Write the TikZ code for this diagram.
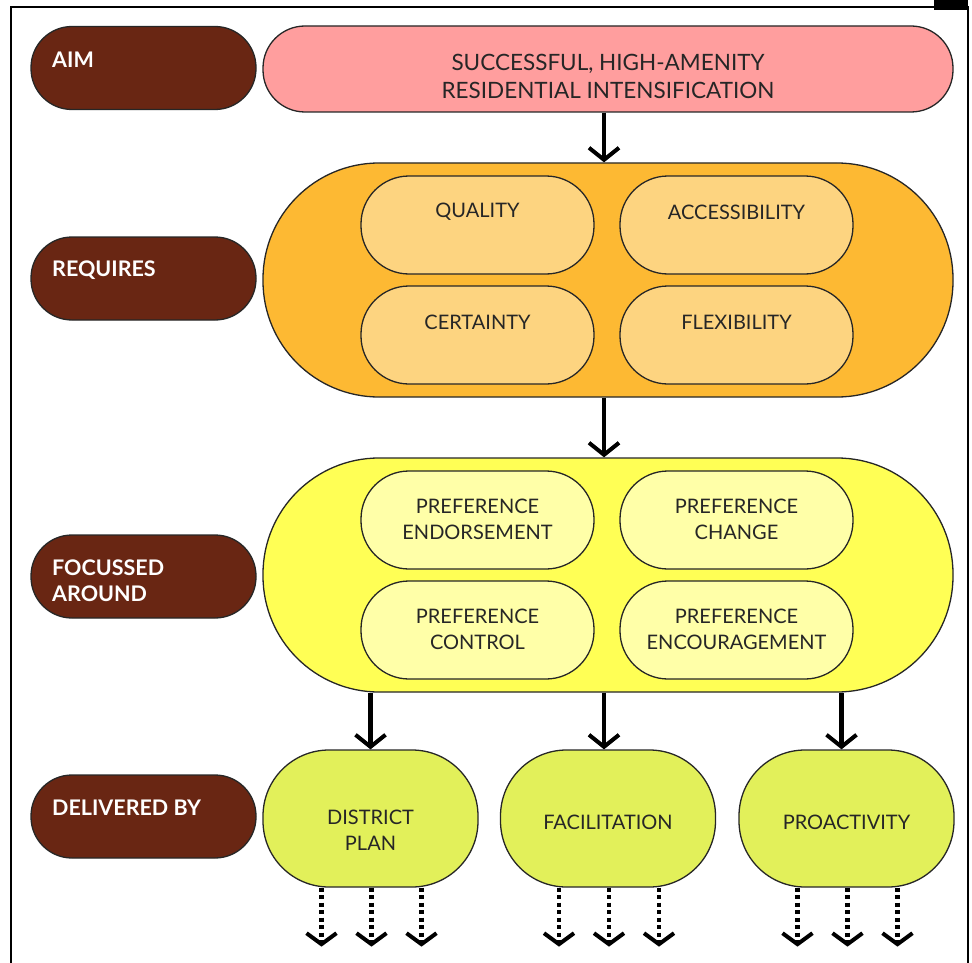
\documentclass[tikz,border=0pt]{standalone}
\usepackage{fontspec}
\setmainfont{Lato}
\usetikzlibrary{arrows.meta}
\definecolor{brownlab}{HTML}{692613}
\definecolor{pinkaim}{HTML}{FF9E9E}
\definecolor{orangereq}{HTML}{FDB933}
\definecolor{orangein}{HTML}{FDD480}
\definecolor{yellowfoc}{HTML}{FFFF55}
\definecolor{yellowin}{HTML}{FFFFA8}
\definecolor{greendel}{HTML}{E2F05A}
\tikzset{
  shapebox/.style={draw=black!85, line width=1.3pt, inner sep=0pt},
  labbox/.style={shapebox, fill=brownlab, minimum width=225pt, minimum height=83pt, rounded corners=41pt},
  labtxt/.style={anchor=west, text=white, font=\fontsize{21.5}{26}\selectfont\bfseries, align=left, inner sep=0pt},
  bigbox/.style={shapebox, minimum width=690pt, minimum height=234pt, rounded corners=116pt},
  innbox/.style={shapebox, minimum width=233pt, minimum height=98pt, rounded corners=48pt},
  delbox/.style={shapebox, fill=greendel, minimum width=215pt, minimum height=137pt, rounded corners=66pt},
  txt/.style={text=black!85, font=\fontsize{20}{26}\selectfont, align=center, inner sep=0pt},
  arr/.style={line width=4.5pt, -{Straight Barb[length=12pt, width=30pt, line width=4pt]}},
  darr/.style={line width=4.5pt, dash pattern=on 4pt off 3.5pt, -{Straight Barb[length=11pt, width=30pt, line width=4pt]}}
}
\begin{document}
\begin{tikzpicture}[x=1pt, y=-1pt]
\useasboundingbox (0,0) rectangle (972,963);
% frame
\draw[line width=1.5pt] (11,963) -- (11,7) -- (968,7) -- (968,963);
\fill[black] (934,0) rectangle (968,10);

% left labels
\node[labbox] (l1) at (143.5,68) {};
\node[labtxt] (t1) at (52,60) {AIM};
\node[labbox] (l2) at (143.5,278.5) {};
\node[labtxt] (t2) at (52,270) {REQUIRES};
\node[labbox] (l3) at (143.5,576.5) {};
\node[labtxt] (t3) at (52,581) {FOCUSSED\\AROUND};
\node[labbox] (l4) at (143.5,816.5) {};
\node[labtxt] (t4) at (52,808) {DELIVERED BY};

% aim
\node[shapebox, fill=pinkaim, minimum width=690pt, minimum height=86pt, rounded corners=42pt] (aim) at (608,69) {};
\node[txt, font=\fontsize{22.5}{28}\selectfont] (aimt) at (608,76) {SUCCESSFUL, HIGH-AMENITY\\RESIDENTIAL INTENSIFICATION};

% requires
\node[bigbox, fill=orangereq] (req) at (608,280) {};
\node[innbox, fill=orangein] (q) at (477.5,225) {};
\node[innbox, fill=orangein] (a) at (736.5,225) {};
\node[innbox, fill=orangein] (c) at (477.5,335) {};
\node[innbox, fill=orangein] (f) at (736.5,335) {};
\node[txt] (qt) at (477.5,212) {QUALITY};
\node[txt] (at) at (736.5,212) {ACCESSIBILITY};
\node[txt] (ct) at (477.5,322) {CERTAINTY};
\node[txt] (ft) at (736.5,322) {FLEXIBILITY};

% focussed
\node[bigbox, fill=yellowfoc] (foc) at (608,575) {};
\node[innbox, fill=yellowin] (pe) at (477.5,520) {};
\node[innbox, fill=yellowin] (pc) at (736.5,520) {};
\node[innbox, fill=yellowin] (pk) at (477.5,630) {};
\node[innbox, fill=yellowin] (pg) at (736.5,630) {};
\node[txt] (pet) at (477.5,519) {PREFERENCE\\ENDORSEMENT};
\node[txt] (pct) at (736.5,519) {PREFERENCE\\CHANGE};
\node[txt] (pkt) at (477.5,629) {PREFERENCE\\CONTROL};
\node[txt] (pgt) at (736.5,629) {PREFERENCE\\ENCOURAGEMENT};

% delivered
\node[delbox] (dp) at (370.5,818.5) {};
\node[delbox] (fa) at (608,818.5) {};
\node[delbox] (pr) at (846.5,818.5) {};
\node[txt] (dpt) at (370.5,830) {DISTRICT\\PLAN};
\node[txt] (fat) at (608,822) {FACILITATION};
\node[txt] (prt) at (846.5,822) {PROACTIVITY};

% solid arrows
\draw[arr] ([xshift=-4pt]aim.south) -- ([xshift=-4pt]req.north);
\draw[arr] ([xshift=-4pt]req.south) -- ([xshift=-4pt]foc.north);
\draw[arr] (dp.north |- foc.south) -- (dp.north);
\draw[arr] ([xshift=-4pt]fa.north |- foc.south) -- ([xshift=-4pt]fa.north);
\draw[arr] ([xshift=-5pt]pr.north |- foc.south) -- ([xshift=-5pt]pr.north);

% dotted arrows
\foreach \b/\n in {dp/d, fa/f, pr/p}{
  \coordinate (\n1) at ([xshift=-49pt, yshift=-59pt]\b.south);
  \coordinate (\n2) at ([xshift=1pt, yshift=-59pt]\b.south);
  \coordinate (\n3) at ([xshift=51pt, yshift=-59pt]\b.south);
  \draw[darr] ([xshift=-49pt]\b.south) -- (\n1);
  \draw[darr] ([xshift=1pt]\b.south) -- (\n2);
  \draw[darr] ([xshift=51pt]\b.south) -- (\n3);
}
\end{tikzpicture}
\end{document}
